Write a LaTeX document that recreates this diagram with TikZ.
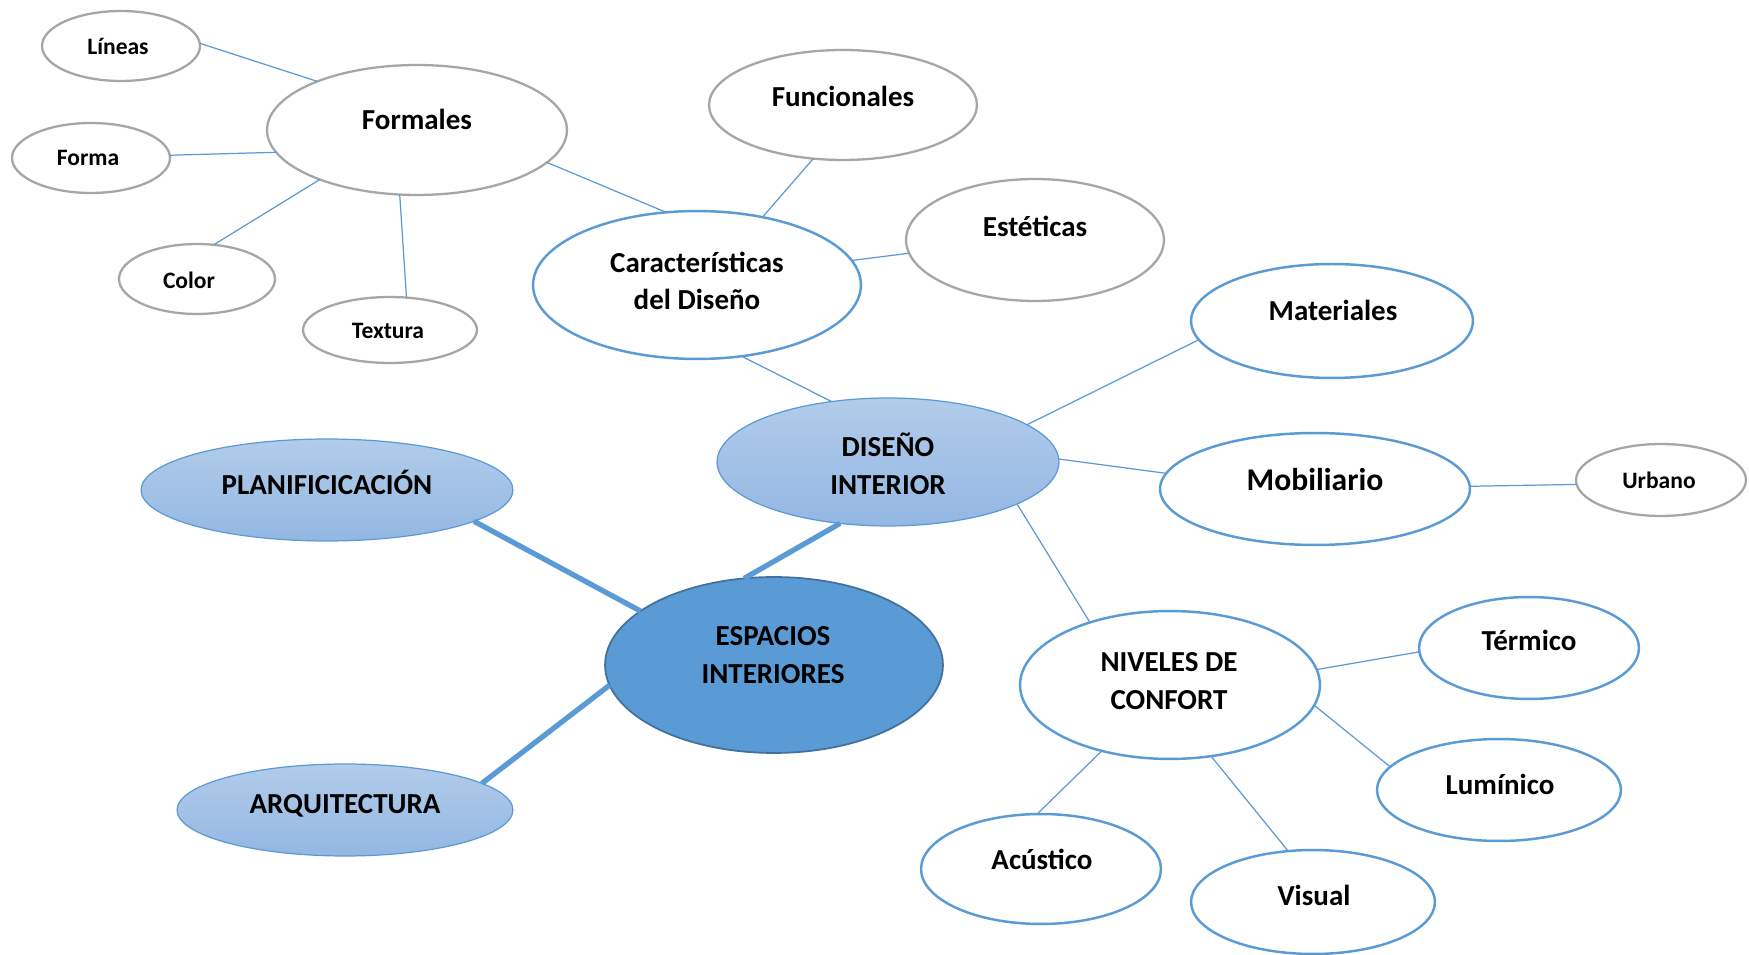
\documentclass[tikz,border=0pt]{standalone}
\usepackage{fontspec}
\setmainfont{Carlito}
\usetikzlibrary{shapes.geometric}
\definecolor{lineblue}{HTML}{5B9BD5}
\definecolor{edgegray}{HTML}{A6A6A6}
\definecolor{softtop}{HTML}{B2CCEA}
\definecolor{softbottom}{HTML}{93B7E2}
\definecolor{coreedge}{HTML}{41719C}
\begin{document}
\begin{tikzpicture}[x=0.02cm,y=-0.02cm,
  bub/.style 2 args={ellipse, inner sep=0pt, outer sep=0pt,
    minimum width=#1*0.04cm, minimum height=#2*0.04cm},
  graybub/.style={draw=edgegray, line width=1.3pt, fill=white},
  bluebub/.style={draw=lineblue, line width=1.4pt, fill=white},
  softbub/.style={draw=lineblue, line width=0.7pt, top color=softtop, bottom color=softbottom},
  corebub/.style={draw=coreedge, line width=1pt, fill=lineblue},
  lbl/.style={font=\bfseries\fontsize{16.5}{21.5}\selectfont, align=center, inner sep=0pt},
  lblbig/.style={font=\bfseries\fontsize{18}{22}\selectfont, align=center, inner sep=0pt},
  lblsmall/.style={font=\bfseries\fontsize{13.4}{17}\selectfont, align=center, inner sep=0pt},
  link/.style={draw=lineblue, line width=0.7pt},
  trunk/.style={draw=lineblue, line width=3pt}]

\fill[white] (0,0) rectangle (1749,955);
\useasboundingbox (0,0) rectangle (1749,955);

% formal characteristics cluster
\node[bub={79}{35}, graybub] (lineas) at (121,46) {};
\node[lblsmall] (lineas-t) at (118,46) {Líneas};
\node[bub={150}{65}, graybub] (formales) at (417,130) {};
\node[lbl] (formales-t) at (417,119) {Formales};
\node[bub={79}{35}, graybub] (forma) at (91,158) {};
\node[lblsmall] (forma-t) at (88,158) {Forma};
\node[bub={78}{35}, graybub] (color) at (197,279) {};
\node[lblsmall] (color-t) at (189,280) {Color};
\node[bub={87}{33}, graybub] (textura) at (390,330) {};
\node[lblsmall] (textura-t) at (388,331) {Textura};

\node[bub={134}{55}, graybub] (funcionales) at (843,105) {};
\node[lbl] (funcionales-t) at (843,96) {Funcionales};
\node[bub={129}{61}, graybub] (esteticas) at (1035,240) {};
\node[lbl] (esteticas-t) at (1035,226) {Estéticas};
\node[bub={164}{74}, bluebub] (caract) at (697,285) {};
\node[lbl] (caract-t) at (697,281) {Características\\del Diseño};

% interior design branch
\node[bub={171}{64}, softbub] (diseno) at (888,462) {};
\node[lbl] (diseno-t) at (888,464) {DISEÑO\\INTERIOR};
\node[bub={141}{57}, bluebub] (materiales) at (1332,321) {};
\node[lbl] (materiales-t) at (1333,310) {Materiales};
\node[bub={155}{56}, bluebub] (mobiliario) at (1315,489) {};
\node[lblbig] (mobiliario-t) at (1315,480) {Mobiliario};
\node[bub={85}{36}, graybub] (urbano) at (1661,480) {};
\node[lblsmall] (urbano-t) at (1659,480) {Urbano};

% comfort levels
\node[bub={150}{74}, bluebub] (niveles) at (1170,685) {};
\node[lbl] (niveles-t) at (1169,681) {NIVELES DE\\CONFORT};
\node[bub={110}{51}, bluebub] (termico) at (1529,648) {};
\node[lbl] (termico-t) at (1529,640) {Térmico};
\node[bub={122}{51}, bluebub] (luminico) at (1499,790) {};
\node[lbl] (luminico-t) at (1500,784) {Lumínico};
\node[bub={120}{55}, bluebub] (acustico) at (1041,869) {};
\node[lbl] (acustico-t) at (1042,859) {Acústico};
\node[bub={122}{52}, bluebub] (visual) at (1313,902) {};
\node[lbl] (visual-t) at (1314,895) {Visual};

% core and sibling disciplines
\node[bub={186}{51}, softbub] (planif) at (327,490) {};
\node[lbl] (planif-t) at (327,482) {PLANIFICICACIÓN};
\node[bub={168}{46}, softbub] (arqui) at (345,810) {};
\node[lbl] (arqui-t) at (345,806) {ARQUITECTURA};
\node[bub={169}{88}, corebub] (espacios) at (774,665) {};
\node[lbl] (espacios-t) at (773,655) {ESPACIOS\\INTERIORES};

% thin connectors
\draw[link] (lineas.2) -- (formales.154);
\draw[link] (forma.2) -- (formales.189);
\draw[link] (color.64) -- (formales.207);
\draw[link] (textura.63) -- (formales.255);
\draw[link] (formales.-14) -- (caract.113);
\draw[link] (funcionales.241) -- (caract.46);
\draw[link] (esteticas.186) -- (caract.9);
\draw[link] (caract.-58) -- (diseno.133);
\draw[link] (materiales.188) -- (diseno.15);
\draw[link] (diseno.1) -- (mobiliario.174);
\draw[link] (mobiliario.1) -- (urbano.183);
\draw[link] (diseno.-18) -- (niveles.142);
\draw[link] (niveles.6) -- (termico.182);
\draw[link] (niveles.-8) -- (luminico.168);
\draw[link] (niveles.224) -- (acustico.94);
\draw[link] (niveles.-60) -- (visual.116);

% thick connectors from the core
\draw[trunk] (espacios.109) -- (diseno.232);
\draw[trunk] (espacios.158) -- (planif.-12);
\draw[trunk] (espacios.187) -- (arqui.11);
\end{tikzpicture}
\end{document}
